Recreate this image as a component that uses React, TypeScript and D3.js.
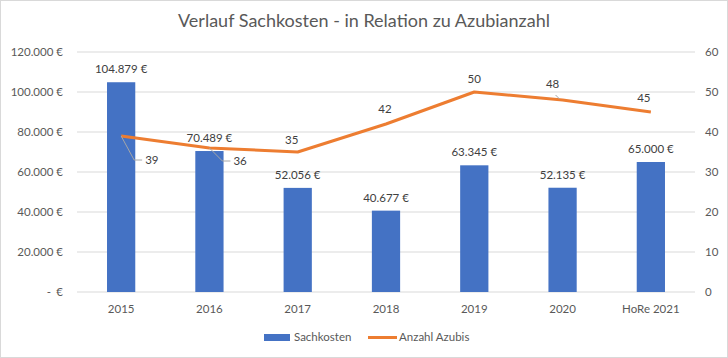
import React from "react";
import * as d3 from "d3";

const categories = ["2015", "2016", "2017", "2018", "2019", "2020", "HoRe 2021"];
const sachkosten = [104879, 70489, 52056, 40677, 63345, 52135, 65000];
const azubis = [39, 36, 35, 42, 50, 48, 45];
const leftTicks = [0, 20000, 40000, 60000, 80000, 100000, 120000];
const rightTicks = [0, 10, 20, 30, 40, 50, 60];

// label placement offsets for line labels (layout, not data)
const lineLabelOffsets: [number, number, boolean][] = [
  [24, 24, true],
  [24, 13, true],
  [-6, -12, false],
  [-1, -15, false],
  [0, -13, false],
  [-10, -16, false],
  [-7, -14, false],
];

const W = 728;
const H = 358;
const M = { left: 77, right: 695, top: 52, bottom: 292 };
const FONT = "Lato, 'Open Sans', 'Liberation Sans', sans-serif";
const TXT = "#595959";

const fmtEuro = (v: number) => {
  const s = d3.format(",")(v).replace(/,/g, ".");
  return s + " €";
};

export default function App() {
  const x = d3
    .scaleBand<string>()
    .domain(categories)
    .range([M.left, M.right])
    .paddingInner(0.68)
    .paddingOuter(0.34);
  const yL = d3.scaleLinear().domain([0, 120000]).range([M.bottom, M.top]);
  const yR = d3.scaleLinear().domain([0, 60]).range([M.bottom, M.top]);
  const cx = (c: string) => (x(c) as number) + x.bandwidth() / 2;

  const line = d3
    .line<number>()
    .x((_, i) => cx(categories[i]))
    .y((d) => yR(d));

  return (
    <svg
      width={W}
      height={H}
      style={{ position: "absolute", left: 0, top: 0, fontFamily: FONT }}
    >
      <rect x={0.5} y={0.5} width={W - 1} height={H - 1} fill="#fff" stroke="#D9D9D9" />
      <text x={W / 2} y={27} textAnchor="middle" fontSize={18} fill={TXT}>
        Verlauf Sachkosten - in Relation zu Azubianzahl
      </text>

      {leftTicks.map((t) => (
        <line
          key={"g" + t}
          x1={M.left}
          x2={M.right}
          y1={yL(t)}
          y2={yL(t)}
          stroke="#D9D9D9"
          strokeWidth={1}
        />
      ))}

      {leftTicks.map((t) =>
        t === 0 ? (
          <g key={"l" + t} fontSize={11.5} fill={TXT}>
            <text x={49} y={yL(t) + 4} textAnchor="middle">-</text>
            <text x={63} y={yL(t) + 4} textAnchor="end">€</text>
          </g>
        ) : (
          <text key={"l" + t} x={63} y={yL(t) + 4} textAnchor="end" fontSize={11.5} fill={TXT}>
            {fmtEuro(t)}
          </text>
        )
      )}
      {rightTicks.map((t) => (
        <text key={"r" + t} x={705} y={yR(t) + 4} textAnchor="start" fontSize={11.5} fill={TXT}>
          {t}
        </text>
      ))}
      {categories.map((c) => (
        <text key={"x" + c} x={cx(c)} y={313} textAnchor="middle" fontSize={11.5} fill={TXT}>
          {c}
        </text>
      ))}

      {sachkosten.map((v, i) => (
        <rect
          key={"b" + i}
          x={x(categories[i])}
          y={yL(v)}
          width={x.bandwidth()}
          height={yL(0) - yL(v)}
          fill="#4472C4"
        />
      ))}
      {sachkosten.map((v, i) => (
        <text
          key={"bl" + i}
          x={cx(categories[i])}
          y={yL(v) - 9}
          textAnchor="middle"
          fontSize={11.5}
          fill="#404040"
        >
          {fmtEuro(v)}
        </text>
      ))}

      <path d={line(azubis) || ""} fill="none" stroke="#ED7D31" strokeWidth={3} strokeLinejoin="round" />

      {azubis.map((v, i) => {
        const px = cx(categories[i]);
        const py = yR(v);
        const [dx, dy, leader] = lineLabelOffsets[i];
        const lx = px + dx;
        const ly = py + dy;
        return (
          <g key={"ll" + i}>
            {leader && (
              <polyline
                points={`${px},${py} ${px + 13},${ly} ${px + 21},${ly}`}
                fill="none"
                stroke="#A6A6A6"
                strokeWidth={1}
              />
            )}
            {i === 5 && (
              <line x1={px - 7} y1={py - 5} x2={px - 3} y2={py - 1} stroke="#A6A6A6" strokeWidth={1} />
            )}
            <text
              x={lx}
              y={ly + 4}
              textAnchor={leader ? "start" : "middle"}
              fontSize={11.5}
              fill="#404040"
            >
              {v}
            </text>
          </g>
        );
      })}

      <g fontSize={11.5} fill={TXT}>
        <rect x={264} y={334} width={26} height={7} fill="#4472C4" />
        <text x={294} y={341}>Sachkosten</text>
        <line x1={368} x2={397} y1={337.5} y2={337.5} stroke="#ED7D31" strokeWidth={3} />
        <text x={399} y={341}>Anzahl Azubis</text>
      </g>
    </svg>
  );
}
